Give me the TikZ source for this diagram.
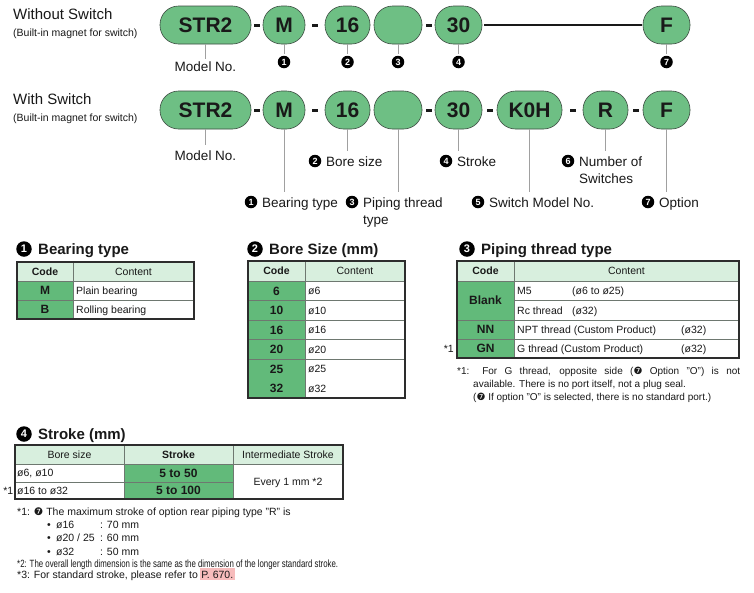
\documentclass[tikz,border=0pt]{standalone}
\usepackage{fontspec}
\setmainfont{Liberation Sans}
\newfontfamily\dingf{DejaVu Sans}
\usepackage{graphicx}
\usetikzlibrary{calc}
\definecolor{pillgreen}{RGB}{110,191,132}
\definecolor{pilledge}{RGB}{60,75,65}
\definecolor{codegreen}{RGB}{98,186,122}
\definecolor{headgreen}{RGB}{216,239,222}
\definecolor{leadgray}{RGB}{160,160,160}
\definecolor{hlpink}{RGB}{247,188,188}
\definecolor{tabedge}{RGB}{45,45,45}
\definecolor{tabinner}{RGB}{110,120,112}
\definecolor{ink}{RGB}{25,25,25}
\newcommand\inb[1]{{\dingf #1}}
\tikzset{
 pill/.style={draw=pilledge, line width=0.6pt, fill=pillgreen, rounded corners=18.5pt, minimum height=38pt, inner sep=0pt, text=ink, font=\fontsize{21}{23}\selectfont\bfseries},
 dashseg/.style={fill=ink, inner sep=0pt, minimum width=6pt, minimum height=3pt},
 joinline/.style={draw=ink, line width=2.8pt},
 leader/.style={draw=leadgray, line width=0.9pt, shorten >=5pt},
 leaderone/.style={draw=leadgray, line width=0.9pt, shorten >=2pt},
 badge/.style={circle, fill=black, text=white, inner sep=0pt, minimum size=12.5pt, font=\fontsize{9}{9}\selectfont\bfseries},
 tbadge/.style={circle, fill=black, text=white, inner sep=0pt, minimum size=15.5pt, font=\fontsize{11}{11}\selectfont\bfseries},
 lbl/.style={inner sep=0pt, anchor=base west, text=ink, font=\fontsize{13.5}{16}\selectfont},
 heading/.style={inner sep=0pt, anchor=base west, text=ink, font=\fontsize{15}{18}\selectfont},
 subhead/.style={inner sep=0pt, anchor=base west, text=ink, font=\fontsize{10.5}{12}\selectfont},
 ttitle/.style={inner sep=0pt, anchor=base west, text=ink, font=\fontsize{15}{18}\selectfont\bfseries},
 ctext/.style={inner sep=0pt, text=ink, text height=7.6pt, text depth=0pt, font=\fontsize{10.5}{12}\selectfont},
 cbold/.style={ctext, font=\fontsize{10.5}{12}\selectfont\bfseries},
 ccode/.style={inner sep=0pt, text=ink, text height=8.6pt, text depth=0pt, font=\fontsize{12}{14}\selectfont\bfseries},
 fnote/.style={inner sep=0pt, anchor=base west, text=ink, font=\fontsize{10}{12}\selectfont},
 fnoteb/.style={fnote, font=\fontsize{10.5}{12}\selectfont},
 outerb/.style={draw=tabedge, line width=1.4pt},
 innerb/.style={draw=tabinner, line width=0.6pt},
}
\begin{document}
\begin{tikzpicture}[x=1pt,y=-1pt]
\useasboundingbox[fill=white] (0,0) rectangle (754,592);

% ---------- Row 1: Without Switch ----------
\node[heading] (h1) at (13,19.5) {Without Switch};
\node[subhead] (h1s) at (13,36) {(Built-in magnet for switch)};
\node[pill, minimum width=91pt] (s1) at (205.5,25) {STR2};
\node[pill, minimum width=42pt] (m1) at (284,25) {M};
\node[pill, minimum width=45pt] (n1) at (347.5,25) {16};
\node[pill, minimum width=48pt] (p1) at (398,25) {};
\node[pill, minimum width=47pt] (t1) at (458.5,25) {30};
\node[pill, minimum width=47pt] (f1) at (666.5,25) {F};
\node[dashseg] (d1a) at ($(s1.east)!.5!(m1.west)$) {};
\node[dashseg] (d1b) at ($(m1.east)!.5!(n1.west)$) {};
\node[dashseg] (d1c) at ($(p1.east)!.5!(t1.west)$) {};
\draw[joinline, shorten <=2pt, shorten >=1pt] (t1.east) -- (f1.west);
\node[lbl, anchor=base] (mn1) at (205.5,71) {Model No.};
\draw[leaderone] (s1.south) -- (s1.south |- mn1.north);
\node[badge] (c11) at (284,62) {1};
\node[badge] (c12) at (347.5,62) {2};
\node[badge] (c13) at (398,62) {3};
\node[badge] (c14) at (458.5,62) {4};
\node[badge] (c17) at (666.5,62) {7};
\draw[leaderone] (m1.south) -- (c11.north);
\draw[leaderone] (n1.south) -- (c12.north);
\draw[leaderone] (p1.south) -- (c13.north);
\draw[leaderone] (t1.south) -- (c14.north);
\draw[leaderone] (f1.south) -- (c17.north);

% ---------- Row 2: With Switch ----------
\node[heading] (h2) at (13,104.5) {With Switch};
\node[subhead] (h2s) at (13,121) {(Built-in magnet for switch)};
\node[pill, minimum width=91pt] (s2) at (205.5,110) {STR2};
\node[pill, minimum width=42pt] (m2) at (284,110) {M};
\node[pill, minimum width=45pt] (n2) at (347.5,110) {16};
\node[pill, minimum width=48pt] (p2) at (398,110) {};
\node[pill, minimum width=47pt] (t2) at (458.5,110) {30};
\node[pill, minimum width=65pt] (k2) at (529.5,110) {K0H};
\node[pill, minimum width=45pt] (r2) at (605.5,110) {R};
\node[pill, minimum width=47pt] (f2) at (666.5,110) {F};
\node[dashseg] (d2a) at ($(s2.east)!.5!(m2.west)$) {};
\node[dashseg] (d2b) at ($(m2.east)!.5!(n2.west)$) {};
\node[dashseg] (d2c) at ($(p2.east)!.5!(t2.west)$) {};
\node[dashseg] (d2d) at ($(t2.east)!.5!(k2.west)$) {};
\node[dashseg] (d2e) at ($(k2.east)!.5!(r2.west)$) {};
\node[dashseg] (d2f) at ($(r2.east)!.5!(f2.west)$) {};

\node[lbl, anchor=base] (mn2) at (205.5,160) {Model No.};
\draw[leader] (s2.south) -- (s2.south |- mn2.north);
\node[badge] (c22) at (315,161) {2};
\node[lbl] (l22) at (326,166) {Bore size};
\draw[leader] (n2.south) -- (n2.south |- l22.north);
\node[badge] (c24) at (446,161) {4};
\node[lbl] (l24) at (457,166) {Stroke};
\draw[leader] (t2.south) -- (t2.south |- l24.north);
\node[badge] (c26) at (568,161) {6};
\node[lbl] (l26) at (579,166) {Number of};
\node[lbl] (l26b) at (579,183) {Switches};
\draw[leader] (r2.south) -- (r2.south |- l26.north);
\node[badge] (c21) at (251,202) {1};
\node[lbl] (l21) at (262,207) {Bearing type};
\draw[leader] (m2.south) -- (m2.south |- l21.north);
\node[badge] (c23) at (352,202) {3};
\node[lbl] (l23) at (363,207) {Piping thread};
\node[lbl] (l23b) at (363,224) {type};
\draw[leader] (p2.south) -- (p2.south |- l23.north);
\node[badge] (c25) at (478,202) {5};
\node[lbl] (l25) at (489,207) {Switch Model No.};
\draw[leader] (k2.south) -- (k2.south |- l25.north);
\node[badge] (c27) at (648,202) {7};
\node[lbl] (l27) at (659,207) {Option};
\draw[leader] (f2.south) -- (f2.south |- l27.north);

% ---------- Table 1: Bearing type ----------
\node[tbadge] (tb1) at (24,249) {1};
\node[ttitle] (tt1) at (38,254.5) {Bearing type};
\fill[headgreen] (17,262) rectangle (194,281);
\fill[codegreen] (17,281) rectangle (73,319);
\draw[innerb] (17,281) -- (194,281) (17,300) -- (194,300) (73,262) -- (73,319);
\draw[outerb] (17,262) rectangle (194,319);
\node[cbold] (t1hc) at (45,271.5) {Code};
\node[ctext] (t1hn) at (133.5,271.5) {Content};
\node[ccode] (t1c1) at (45,290.5) {M};
\node[ctext, anchor=west] (t1n1) at (76,290.5) {Plain bearing};
\node[ccode] (t1c2) at (45,309.5) {B};
\node[ctext, anchor=west] (t1n2) at (76,309.5) {Rolling bearing};

% ---------- Table 2: Bore size ----------
\node[tbadge] (tb2) at (255,249) {2};
\node[ttitle] (tt2) at (269,254.5) {Bore Size (mm)};
\fill[headgreen] (248,261) rectangle (405,281);
\fill[codegreen] (248,281) rectangle (305,398);
\foreach \i in {0,...,4} {\draw[innerb] (248,{281+19.5*\i}) -- (405,{281+19.5*\i});}
\draw[innerb] (305,261) -- (305,398);
\draw[outerb] (248,261) rectangle (405,398);
\node[cbold] (t2hc) at (276.5,271) {Code};
\node[ctext] (t2hn) at (355,271) {Content};
\foreach \c [count=\i] in {6,10,16,20,25,32} {
  \node[ccode] (t2c\i) at (276.5,{281+19.5*(\i-0.5)}) {\c};
  \node[ctext, anchor=west] (t2n\i) at (308,{281+19.5*(\i-0.5)}) {ø\c};
}

% ---------- Table 3: Piping thread type ----------
\node[tbadge] (tb3) at (467,249) {3};
\node[ttitle] (tt3) at (481,254.5) {Piping thread type};
\fill[headgreen] (457,261) rectangle (739,281);
\fill[codegreen] (457,281) rectangle (514,358);
\draw[innerb] (457,281) -- (739,281) (514,300.5) -- (739,300.5) (457,320) -- (739,320) (457,339) -- (739,339) (514,261) -- (514,358);
\draw[outerb] (457,261) rectangle (739,358);
\node[cbold] (t3hc) at (485.5,271) {Code};
\node[ctext] (t3hn) at (626.5,271) {Content};
\node[ccode] (t3c1) at (485.5,300.5) {Blank};
\node[ccode] (t3c2) at (485.5,329.5) {NN};
\node[ccode] (t3c3) at (485.5,348.5) {GN};
\node[ctext, anchor=west] (t3n1) at (517,290.75) {M5};
\node[ctext, anchor=west] (t3n1b) at (572,290.75) {(ø6 to ø25)};
\node[ctext, anchor=west] (t3n2) at (517,310.25) {Rc thread};
\node[ctext, anchor=west] (t3n2b) at (572,310.25) {(ø32)};
\node[ctext, anchor=west] (t3n3) at (517,329.5) {NPT thread (Custom Product)};
\node[ctext, anchor=west] (t3n3b) at (681,329.5) {(ø32)};
\node[ctext, anchor=west] (t3n4) at (517,348.5) {G thread (Custom Product)};
\node[ctext, anchor=west] (t3n4b) at (681,348.5) {(ø32)};
\node[ctext, anchor=east] (t3st) at (454,348.5) {*1};
\node[fnote] (pf1) at (457,374) {\makebox[283pt][s]{*1: For G thread, opposite side (\inb{❼} Option "O") is not}};
\node[fnote] (pf2) at (473,387) {available. There is no port itself, not a plug seal.};
\node[fnote] (pf3) at (473,400) {(\inb{❼} If option "O" is selected, there is no standard port.)};

% ---------- Table 4: Stroke ----------
\node[tbadge] (tb4) at (24,434) {4};
\node[ttitle] (tt4) at (38,439.5) {Stroke (mm)};
\fill[headgreen] (15,445) rectangle (343,464);
\fill[codegreen] (124,464) rectangle (233,499);
\draw[innerb] (15,464) -- (343,464) (15,482) -- (233,482) (124,445) -- (124,499) (233,445) -- (233,499);
\draw[outerb] (15,445) rectangle (343,499);
\node[ctext] (t4h1) at (69.5,454.5) {Bore size};
\node[cbold] (t4h2) at (178.5,454.5) {Stroke};
\node[ctext] (t4h3) at (288,454.5) {Intermediate Stroke};
\node[ctext, anchor=west] (t4b1) at (17,473) {ø6, ø10};
\node[ctext, anchor=west] (t4b2) at (17,490.5) {ø16 to ø32};
\node[ccode] (t4s1) at (178.5,473) {5 to 50};
\node[ccode] (t4s2) at (178.5,490.5) {5 to 100};
\node[ctext] (t4i) at (288,481.5) {Every 1 mm *2};
\node[ctext, anchor=east] (t4st) at (13.5,490.5) {*1};

\node[fnoteb] (sf1) at (17,515) {*1: \inb{❼} The maximum stroke of option rear piping type "R" is};
\node[fnoteb] (sb1) at (47,528) {\makebox[9pt][l]{•}\makebox[44pt][l]{ø16}: 70 mm};
\node[fnoteb] (sb2) at (47,541.5) {\makebox[9pt][l]{•}\makebox[44pt][l]{ø20 / 25}: 60 mm};
\node[fnoteb] (sb3) at (47,555) {\makebox[9pt][l]{•}\makebox[44pt][l]{ø32}: 50 mm};
\node[fnoteb] (sf2) at (17,567) {\resizebox{321pt}{\height}{*2: The overall length dimension is the same as the dimension of the longer standard stroke.}};
\node[fnoteb] (sf3) at (17,578) {*3: For standard stroke, please refer to};
\node[fnoteb, anchor=base west, fill=hlpink, inner xsep=1.5pt, inner ysep=2pt, text height=8.5pt, text depth=0pt] (sfp) at ([xshift=1.5pt]sf3.base east) {P. 670.};
\end{tikzpicture}
\end{document}
